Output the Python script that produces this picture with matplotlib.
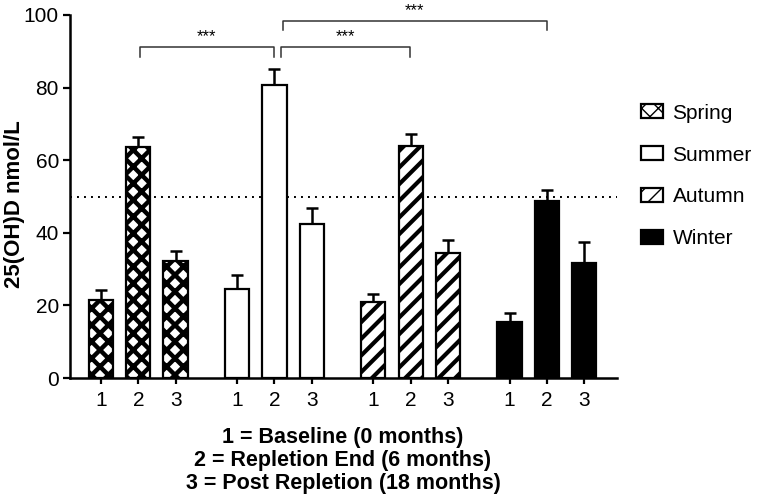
import matplotlib
matplotlib.use("Agg")
import matplotlib.pyplot as plt

plt.rcParams['font.family'] = ['Liberation Sans', 'DejaVu Sans']

# Datos (25(OH)D nmol/L)
estaciones = ['Spring', 'Summer', 'Autumn', 'Winter']
momentos = ['1', '2', '3']
media_spring = [21.5, 63.5, 32.2]
media_summer = [24.5, 80.7, 42.3]
media_autumn = [21.0, 64.0, 34.5]
media_winter = [15.5, 48.8, 31.8]
err_spring = [2.7, 2.8, 2.8]
err_summer = [4.0, 4.3, 4.5]
err_autumn = [2.2, 3.2, 3.5]
err_winter = [2.5, 3.0, 5.7]
umbral = 50
pie = ['1 = Baseline (0 months)', '2 = Repletion End (6 months)',
       '3 = Post Repletion (18 months)']

medias = [media_spring, media_summer, media_autumn, media_winter]
errores = [err_spring, err_summer, err_autumn, err_winter]
estilos = [dict(facecolor='white', hatch='xx', hl=3.2),
           dict(facecolor='white', hatch=None, hl=1.0),
           dict(facecolor='white', hatch='//', hl=3.0),
           dict(facecolor='black', hatch=None, hl=1.0)]

fig = plt.figure(figsize=(7.6, 5.03), dpi=100)
ax = fig.add_axes([70 / 760, 1 - 378 / 503, 547 / 760, 363 / 503])

paso_grupo = 3.65
ancho = 0.65
posiciones = []
barras = []
for g, (m, e, est) in enumerate(zip(medias, errores, estilos)):
    xs = [g * paso_grupo + i for i in range(3)]
    posiciones += xs
    with plt.rc_context({'hatch.linewidth': est['hl'], 'hatch.color': 'black'}):
        b = ax.bar(xs, m, width=ancho, facecolor=est['facecolor'], edgecolor='black',
                   linewidth=1.6, hatch=est['hatch'], label=estaciones[g], zorder=3)
    for p in b.patches:
        if hasattr(p, 'set_hatch_linewidth'):
            p.set_hatch_linewidth(est['hl'])
    barras.append(b)
    ax.errorbar(xs, m, yerr=[[0] * 3, e], fmt='none', ecolor='black',
                elinewidth=1.8, capsize=4.5, capthick=1.8, zorder=2)

x0, x1 = -0.83, 13.83
ax.set_xlim(x0, x1)
ax.set_ylim(0, 100)
ax.plot([x0, x1], [umbral, umbral], color='black', linestyle=(0, (1, 2.6)),
        linewidth=1.4, zorder=1)

# Corchetes de significación
def corchete(xa, xb, y, caida, texto):
    ax.plot([xa, xa, xb, xb], [y - caida, y, y, y - caida], color='#333333',
            linewidth=1.1, clip_on=False)
    ax.text((xa + xb) / 2, y + 0.8, texto, ha='center', va='bottom',
            fontsize=12, clip_on=False)

corchete(posiciones[1] + 0.05, posiciones[4] - 0.02, 91.2, 2.8, '***')
corchete(posiciones[4] + 0.17, posiciones[7] - 0.03, 91.2, 2.8, '***')
corchete(posiciones[4] + 0.22, posiciones[10], 98.3, 2.5, '***')

ax.set_xticks(posiciones)
ax.set_xticklabels(momentos * 4)
ax.set_yticks([0, 20, 40, 60, 80, 100])
ax.tick_params(axis='both', labelsize=15, width=1.6, direction='out')
ax.tick_params(axis='y', length=5, pad=3)
ax.tick_params(axis='x', length=4.5, pad=5)
for s in ['top', 'right']:
    ax.spines[s].set_visible(False)
for s in ['left', 'bottom']:
    ax.spines[s].set_linewidth(1.8)

fig.text(15 / 760, 1 - 204 / 503, '25(OH)D nmol/L', rotation=90, ha='center',
         va='center', fontsize=16, fontweight='bold')

for k, linea in enumerate(pie):
    fig.text(343 / 760, 1 - (438 + 22.5 * k) / 503, linea, ha='center', va='center',
             fontsize=15.5, fontweight='bold')

fig.legend(handles=barras, loc='center left', bbox_to_anchor=(641 / 760, 1 - 176 / 503),
           frameon=False, fontsize=15, handlelength=1.06, handleheight=0.67,
           handletextpad=0.45, labelspacing=1.1, borderpad=0, borderaxespad=0)

fig.savefig('out.png', dpi=100)
